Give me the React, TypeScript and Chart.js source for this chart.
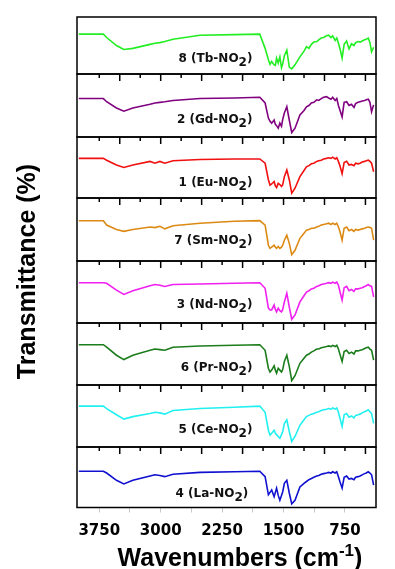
import React, { useEffect, useRef } from 'react';
import { Chart, registerables } from 'chart.js';

Chart.register(...registerables);

// Wavenumber grid (cm-1), shared by all spectra
const WAVENUMBERS = [4000, 3700, 3660, 3540, 3450, 3340, 3130, 3070, 3010, 2950, 2850, 2520, 2100, 1790, 1725, 1685, 1665, 1645, 1615, 1600, 1585, 1565, 1545, 1525, 1510, 1490, 1460, 1430, 1400, 1360, 1300, 1250, 1220, 1190, 1160, 1130, 1095, 1070, 1040, 1010, 975, 950, 920, 900, 870, 850, 830, 810, 785, 760, 730, 700, 670, 640, 620, 590, 565, 540, 510, 490, 465, 445, 425, 400];

// Relative transmittance of each panel (0 = panel bottom, 100 = panel top)
const LA = [60, 60, 57, 45, 39, 45, 52, 54, 53, 51, 55, 58, 59, 60, 51, 21, 25, 29, 18, 25, 32, 20, 12, 20, 26, 40, 45, 24, 6, 12, 34, 40, 43, 46, 48, 50, 52, 53, 55, 56, 57, 58, 57, 59, 57, 59, 51, 42, 32, 50, 52, 47, 48, 46, 50, 51, 52, 54, 56, 57, 59, 57, 54, 37];
const CE = [66, 66, 62, 52, 45, 49, 54, 56, 55, 53, 59, 62, 64, 66, 56, 27, 19, 22, 27, 22, 20, 17, 14, 20, 25, 38, 44, 25, 9, 17, 35, 44, 49, 51, 53, 54, 56, 57, 59, 60, 61, 62, 61, 63, 61, 63, 56, 46, 33, 52, 54, 48, 50, 47, 51, 52, 53, 55, 57, 58, 60, 57, 54, 38];
const PR = [65, 65, 61, 48, 41, 48, 56, 58, 57, 56, 61, 63, 64, 65, 56, 27, 21, 24, 31, 24, 19, 27, 24, 21, 25, 38, 48, 30, 7, 15, 35, 43, 48, 50, 53, 55, 58, 58, 60, 61, 62, 63, 62, 64, 62, 64, 58, 49, 38, 54, 56, 51, 53, 50, 55, 55, 56, 57, 59, 60, 61, 58, 56, 40];
const ND = [65, 65, 64, 53, 46, 52, 60, 62, 61, 59, 62, 63, 64, 65, 56, 24, 21, 21, 29, 22, 18, 24, 20, 18, 22, 34, 48, 26, 6, 13, 34, 44, 50, 52, 55, 56, 59, 60, 62, 63, 64, 65, 64, 66, 64, 66, 61, 50, 37, 57, 59, 52, 54, 51, 55, 55, 56, 57, 59, 60, 62, 60, 59, 42];
const SM = [64, 64, 57, 50, 47, 50, 54, 53, 55, 51, 56, 60, 63, 64, 57, 25, 20, 22, 25, 22, 20, 23, 20, 22, 25, 33, 41, 28, 10, 17, 36, 44, 49, 50, 52, 52, 54, 55, 57, 58, 59, 60, 58, 60, 58, 60, 54, 46, 33, 52, 54, 48, 50, 47, 50, 49, 50, 51, 52, 53, 54, 53, 52, 33];
const EU = [65, 65, 62, 54, 50, 54, 60, 57, 60, 57, 61, 63, 64, 64, 57, 30, 21, 23, 27, 20, 17, 24, 22, 19, 22, 35, 46, 30, 8, 16, 35, 45, 51, 53, 56, 57, 60, 61, 62, 64, 65, 66, 65, 67, 64, 66, 60, 52, 40, 58, 60, 54, 55, 53, 57, 56, 57, 59, 60, 61, 62, 60, 57, 43];
const GD = [61, 61, 56, 46, 41, 46, 52, 54, 55, 56, 58, 61, 62, 63, 54, 30, 25, 22, 27, 20, 18, 14, 22, 17, 28, 38, 48, 27, 7, 14, 35, 42, 48, 50, 54, 55, 59, 58, 61, 63, 64, 62, 60, 63, 58, 61, 50, 42, 32, 55, 56, 50, 52, 47, 53, 55, 56, 57, 58, 59, 60, 55, 40, 51];
const TB = [70, 70, 64, 50, 43, 45, 52, 54, 55, 57, 61, 68, 69, 70, 45, 25, 17, 22, 16, 15, 28, 19, 30, 11, 18, 32, 42, 12, 9, 16, 30, 40, 48, 45, 52, 56, 57, 60, 63, 64, 67, 68, 64, 67, 59, 63, 54, 44, 28, 52, 58, 44, 53, 50, 55, 57, 56, 58, 60, 61, 63, 55, 39, 47];

// Panels listed bottom to top
const SERIES = [LA, CE, PR, ND, SM, EU, GD, TB];
const SAMPLE_NO = ['4', '5', '6', '3', '7', '1', '2', '8'];
const METALS = ['La', 'Ce', 'Pr', 'Nd', 'Sm', 'Eu', 'Gd', 'Tb'];
const COLORS = ['#1010d0', '#20f0f0', '#1b7d1b', '#f020f0', '#dc8a14', '#f01010', '#800080', '#22ee22'];
const PANEL_WEIGHTS = [60.5, 62, 62, 62, 63, 61, 63, 57];
const LABEL_WN = [1930, 1880, 1880, 1880, 1880, 1880, 1880, 1880];
const LABEL_Y = [17, 23, 23, 24, 27, 20, 22, 21];

const X_MIN = 371;
const X_MAX = 4022;
const BOTTOM_TICKS = [3750, 3375, 3000, 2625, 2250, 1875, 1500, 1125, 750];
const PANEL_TICKS = [3750, 3500, 3250, 3000, 2750, 2500, 2250, 2000, 1750, 1500, 1250, 1000, 750, 500];

const Y_TITLE = 'Transmittance (%)';
const X_TITLE = ['Wavenumbers (cm', '-1', ')'];

const PANEL_IDS = SERIES.map((_, i) => 'y' + i);

const ARIAL = '"Liberation Sans", Arial, sans-serif';
const DEJAVU = '"DejaVu Sans", sans-serif';

const framePlugin = {
  id: 'panelFrames',
  afterDraw(chart: any) {
    const ctx = chart.ctx as CanvasRenderingContext2D;
    const ca = chart.chartArea;
    const xs = chart.scales.x;
    ctx.save();
    ctx.strokeStyle = '#000';
    ctx.lineWidth = 1.5;
    PANEL_IDS.forEach((id, i) => {
      const s = chart.scales[id];
      ctx.strokeRect(ca.left, s.top, ca.right - ca.left, s.bottom - s.top);
      if (i < PANEL_IDS.length - 1) {
        for (const v of PANEL_TICKS) {
          const px = xs.getPixelForValue(v);
          const len = v % 500 === 0 ? 7 : 4;
          ctx.beginPath();
          ctx.moveTo(px, s.top);
          ctx.lineTo(px, s.top + len);
          ctx.stroke();
        }
      }
    });

    // panel labels  e.g. "8 (Tb-NO2)" with subscript 2
    ctx.fillStyle = '#111';
    ctx.textBaseline = 'alphabetic';
    ctx.textAlign = 'left';
    PANEL_IDS.forEach((id, i) => {
      const s = chart.scales[id];
      const main = SAMPLE_NO[i] + ' (' + METALS[i] + '-NO';
      const sub = '2';
      const tail = ')';
      const mainFont = 'bold 12px ' + DEJAVU;
      const subFont = 'bold 12px ' + DEJAVU;
      ctx.font = mainFont;
      const wMain = ctx.measureText(main).width;
      const wTail = ctx.measureText(tail).width;
      ctx.font = subFont;
      const wSub = ctx.measureText(sub).width;
      const right = xs.getPixelForValue(LABEL_WN[i]);
      const base = s.getPixelForValue(LABEL_Y[i]);
      let x = right - (wMain + wSub + wTail);
      ctx.font = mainFont;
      ctx.fillText(main, x, base);
      x += wMain;
      ctx.font = subFont;
      ctx.fillText(sub, x, base + 4);
      x += wSub;
      ctx.font = mainFont;
      ctx.fillText(tail, x, base);
    });

    // y title
    ctx.fillStyle = '#000';
    ctx.font = 'bold 25px ' + ARIAL;
    ctx.save();
    ctx.translate(35, 271.5);
    ctx.rotate(-Math.PI / 2);
    ctx.textAlign = 'center';
    ctx.textBaseline = 'alphabetic';
    ctx.fillText(Y_TITLE, 0, 0);
    ctx.restore();

    // x title with superscript
    ctx.textAlign = 'left';
    ctx.textBaseline = 'alphabetic';
    const f1 = 'bold 25px ' + ARIAL;
    const f2 = 'bold 17px ' + ARIAL;
    ctx.font = f1;
    const w1 = ctx.measureText(X_TITLE[0]).width;
    const w3 = ctx.measureText(X_TITLE[2]).width;
    ctx.font = f2;
    const w2 = ctx.measureText(X_TITLE[1]).width;
    const cx = 240;
    let tx = cx - (w1 + w2 + w3) / 2;
    const ty = 566;
    ctx.font = f1;
    ctx.fillText(X_TITLE[0], tx, ty);
    tx += w1;
    ctx.font = f2;
    ctx.fillText(X_TITLE[1], tx, ty - 10);
    tx += w2;
    ctx.font = f1;
    ctx.fillText(X_TITLE[2], tx, ty);
    ctx.restore();
  },
};

export default function App() {
  const ref = useRef<HTMLCanvasElement | null>(null);

  useEffect(() => {
    if (!ref.current) return;
    const scales: any = {
      x: {
        type: 'linear',
        reverse: true,
        min: X_MIN,
        max: X_MAX,
        position: 'bottom',
        afterBuildTicks: (axis: any) => {
          axis.ticks = BOTTOM_TICKS.map((v) => ({ value: v }));
        },
        afterFit: (axis: any) => {
          axis.height = 61.5;
        },
        grid: {
          display: true,
          drawOnChartArea: false,
          drawTicks: true,
          tickLength: 5,
          color: '#c8c8c8',
          lineWidth: 1,
        },
        border: { display: false },
        ticks: {
          autoSkip: false,
          maxRotation: 0,
          padding: 10,
          color: '#000',
          font: { family: DEJAVU, size: 15, weight: 'bold' },
          callback: (v: any) => (Number(v) % 750 === 0 ? String(v) : ''),
        },
      },
    };
    PANEL_IDS.forEach((id, i) => {
      scales[id] = {
        type: 'linear',
        display: false,
        position: 'left',
        stack: 'panels',
        stackWeight: PANEL_WEIGHTS[i],
        min: 0,
        max: 100,
      };
    });

    const chart = new Chart(ref.current, {
      type: 'line',
      data: {
        datasets: SERIES.map((vals, i) => ({
          label: METALS[i],
          data: vals.map((y, j) => ({ x: WAVENUMBERS[j], y })),
          yAxisID: PANEL_IDS[i],
          borderColor: COLORS[i],
          backgroundColor: COLORS[i],
          borderWidth: 1.6,
          pointRadius: 0,
          tension: 0,
          fill: false,
        })),
      },
      options: {
        animation: false,
        responsive: false,
        layout: { padding: { left: 77, right: 19, top: 17, bottom: 0 } },
        plugins: {
          legend: { display: false },
          tooltip: { enabled: false },
          title: { display: false },
        },
        scales,
      },
      plugins: [framePlugin],
    });
    return () => chart.destroy();
  }, []);

  return (
    <div style={{ position: 'absolute', left: 0, top: 0, width: 395, height: 569, background: '#fff' }}>
      <canvas ref={ref} width={395} height={569} />
    </div>
  );
}
